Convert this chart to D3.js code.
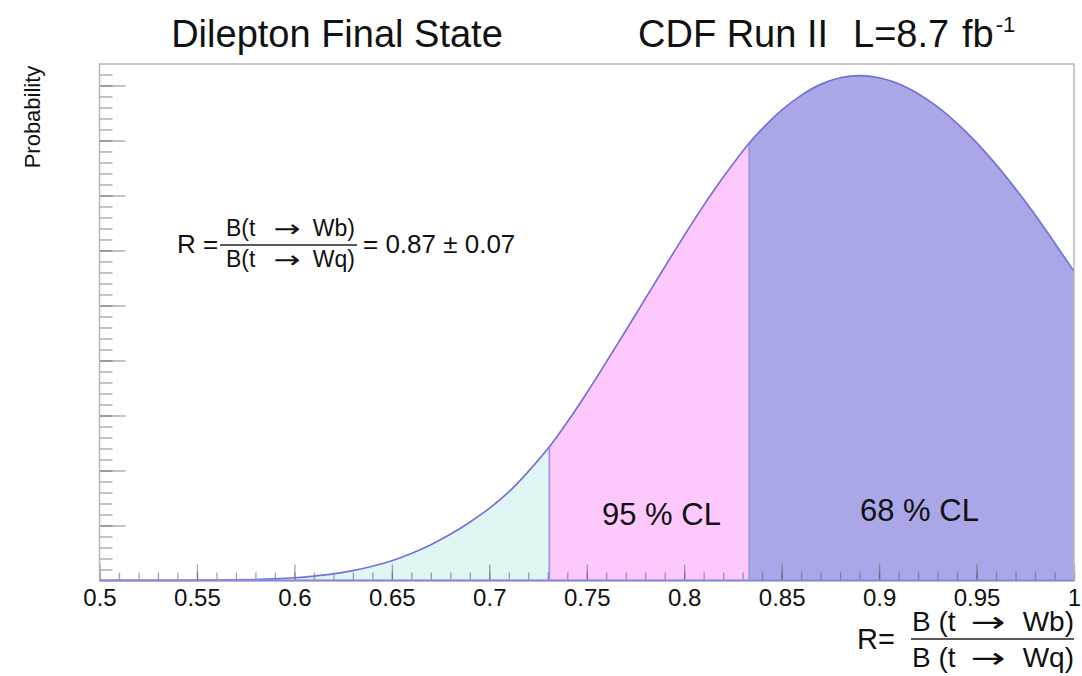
<!DOCTYPE html>
<html><head><meta charset="utf-8">
<script src="https://cdn.jsdelivr.net/npm/d3@7"></script>
<style>
body{margin:0;background:#fff;}
svg{display:block;font-family:"Liberation Sans",Arial,Helvetica,sans-serif;}
</style>
</head><body>
<svg id="chart" width="1082" height="676"></svg>
<script>
// ---- data ----
const rValues = [0.50,0.52,0.54,0.56,0.58,0.59,0.60,0.61,0.62,0.63,0.64,0.65,0.66,0.67,0.68,0.69,0.70,0.71,0.72,0.7308,0.74,0.75,0.76,0.77,0.78,0.79,0.80,0.81,0.82,0.8333,0.84,0.85,0.86,0.87,0.88,0.89,0.90,0.91,0.92,0.93,0.94,0.95,0.96,0.97,0.98,0.99,1.00];
const probValues = [0,0.002,0.004,0.008,0.018,0.03,0.05,0.08,0.12,0.18,0.26,0.36,0.49,0.65,0.84,1.06,1.31,1.61,1.98,2.43,2.88,3.41,3.97,4.54,5.12,5.70,6.27,6.82,7.33,7.95,8.21,8.55,8.82,9.02,9.14,9.18,9.14,9.03,8.85,8.61,8.31,7.96,7.56,7.12,6.65,6.14,5.62];
const limit95 = 0.7308;   // lower edge of 95% CL band
const limit68 = 0.8333;   // lower edge of 68% CL band
const xTickValues = [0.5,0.55,0.6,0.65,0.7,0.75,0.8,0.85,0.9,0.95,1.0];
const xTickLabels = ["0.5","0.55","0.6","0.65","0.7","0.75","0.8","0.85","0.9","0.95","1"];
const yMax = 9.39;
const yMajorTicks = [1,2,3,4,5,6,7,8,9];
const yMinorTicks = d3.range(1, 47).map(i => +(i*0.2).toFixed(2)).filter(v => v < yMax);
const xMinorTicks = d3.range(50, 101).map(i => i/100);

const data = rValues.map((r,i) => ({r, p: probValues[i]}));

const svg = d3.select("#chart");
const M = {left: 99.5, top: 64, right: 1074, bottom: 580.5};
const x = d3.scaleLinear().domain([0.5, 1.0]).range([M.left, M.right]);
const y = d3.scaleLinear().domain([0, yMax]).range([M.bottom, M.top]);

const defs = svg.append("defs");
const bands = [
  {id:"c1", from:0.5, to:limit95, fill:"#dff6f5"},
  {id:"c2", from:limit95, to:limit68, fill:"#fdc9fd"},
  {id:"c3", from:limit68, to:1.0, fill:"#a9a7e8"}
];
bands.forEach(b => {
  defs.append("clipPath").attr("id", b.id).append("rect")
    .attr("x", x(b.from)).attr("y", M.top - 5)
    .attr("width", x(b.to) - x(b.from)).attr("height", M.bottom - M.top + 10);
});

const curve = d3.curveCatmullRom.alpha(0.5);
const area = d3.area().x(d => x(d.r)).y0(y(0)).y1(d => y(d.p)).curve(curve);
const line = d3.line().x(d => x(d.r)).y(d => y(d.p)).curve(curve);

bands.forEach(b => {
  svg.append("path").datum(data).attr("d", area)
    .attr("fill", b.fill).attr("clip-path", `url(#${b.id})`);
});

// band separators
[limit95, limit68].forEach(v => {
  const p = data.find(d => d.r === v).p;
  svg.append("line").attr("x1", x(v)).attr("x2", x(v))
    .attr("y1", y(p)).attr("y2", y(0))
    .attr("stroke", "#9896e2").attr("stroke-width", 1.6);
});

// axes ticks (inward)
function tickStyle(g){
  g.select(".domain").remove();
  g.selectAll(".tick line").attr("stroke", "#555").attr("stroke-opacity", 0.55).attr("stroke-width", 1.3);
}
svg.append("g").attr("transform", `translate(0,${M.bottom})`)
  .call(d3.axisBottom(x).tickValues(xMinorTicks).tickSizeInner(-8).tickSizeOuter(0).tickFormat(""))
  .call(tickStyle);
const xAxis = svg.append("g").attr("transform", `translate(0,${M.bottom})`)
  .call(d3.axisBottom(x).tickValues(xTickValues).tickSizeInner(-16).tickSizeOuter(0)
    .tickPadding(8).tickFormat((d,i) => xTickLabels[i]))
  .call(tickStyle);
xAxis.selectAll("text").attr("font-size", 24).attr("fill", "#111")
  .attr("font-family", "'Liberation Sans', Arial, sans-serif");

svg.append("g").attr("transform", `translate(${M.left},0)`)
  .call(d3.axisLeft(y).tickValues(yMinorTicks).tickSizeInner(-13).tickSizeOuter(0).tickFormat(""))
  .call(tickStyle);
svg.append("g").attr("transform", `translate(${M.left},0)`)
  .call(d3.axisLeft(y).tickValues(yMajorTicks).tickSizeInner(-26).tickSizeOuter(0).tickFormat(""))
  .call(tickStyle);

// curve
svg.append("path").datum(data).attr("d", line)
  .attr("fill", "none").attr("stroke", "#7371d8").attr("stroke-width", 1.7);

// frame
svg.append("rect").attr("x", M.left).attr("y", M.top)
  .attr("width", M.right - M.left).attr("height", M.bottom - M.top)
  .attr("fill", "none").attr("stroke", "#b8b8b8").attr("stroke-width", 1.5);
svg.append("line").attr("x1", M.left).attr("x2", M.right).attr("y1", M.bottom).attr("y2", M.bottom)
  .attr("stroke", "#8785dc").attr("stroke-width", 2);

// texts
const T = (xx, yy, s, size, anchor) => svg.append("text").attr("x", xx).attr("y", yy)
  .attr("font-size", size).attr("text-anchor", anchor || "start").attr("fill", "#111").text(s);
const Arrow = (cx, yy, size, w) => svg.append("text").attr("x", cx - w/2).attr("y", yy)
  .attr("font-size", size).attr("fill", "#111").attr("font-family", "'DejaVu Sans', sans-serif")
  .attr("textLength", w).attr("lengthAdjust", "spacingAndGlyphs").text("\u2192");

T(337, 47, "Dilepton Final State", 38, "middle");
T(638, 47, "CDF Run II", 38);
T(853, 47, "L=8.7", 38);
const fb = T(962, 47, "fb", 38);
fb.append("tspan").attr("font-size", 22).attr("dy", -15).attr("dx", 2).text("-1");

svg.append("text").attr("transform", "translate(40,117) rotate(-90)")
  .attr("text-anchor", "middle").attr("font-size", 22).attr("fill", "#111").text("Probability");

// R formula inside plot
T(177, 253, "R =", 26);
T(226, 236, "B(t", 23);
Arrow(287, 237, 24, 27);
T(355, 236, "Wb)", 23, "end");
T(226, 267, "B(t", 23);
Arrow(287, 268, 24, 27);
T(355, 267, "Wq)", 23, "end");
svg.append("line").attr("x1", 220).attr("x2", 357).attr("y1", 245).attr("y2", 245)
  .attr("stroke", "#222").attr("stroke-width", 1.5);
T(363, 253, "= 0.87 \u00b1 0.07", 26);

// CL labels
T(602, 525, "95 % CL", 31);
T(860, 521, "68 % CL", 31);

// x-axis title
T(857, 649, "R=", 29);
T(912, 631, "B (t", 28);
Arrow(988, 632, 29, 35);
T(1074, 631, "Wb)", 28, "end");
svg.append("line").attr("x1", 911).attr("x2", 1074).attr("y1", 639).attr("y2", 639)
  .attr("stroke", "#222").attr("stroke-width", 1.6);
T(912, 667, "B (t", 28);
Arrow(988, 668, 29, 35);
T(1074, 667, "Wq)", 28, "end");
</script>
</body></html>
